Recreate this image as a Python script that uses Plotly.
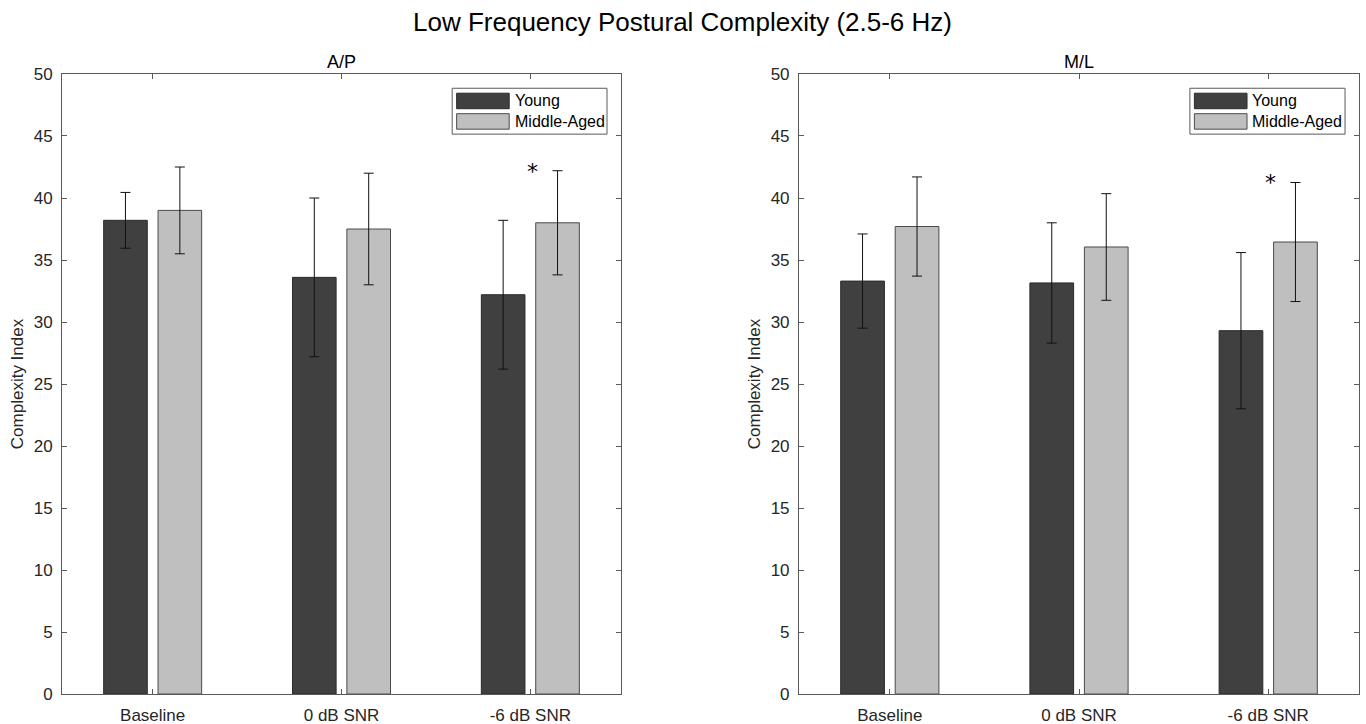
import plotly.graph_objects as go

categories = ["Baseline", "0 dB SNR", "-6 dB SNR"]
cat_pos = [1, 2, 3]
groups = ["Young", "Middle-Aged"]

ap_young = [38.2, 33.6, 32.2]
ap_young_err = [2.25, 6.4, 6.0]
ap_middle = [39.0, 37.5, 38.0]
ap_middle_err = [3.5, 4.5, 4.2]

ml_young = [33.3, 33.15, 29.3]
ml_young_err = [3.8, 4.85, 6.3]
ml_middle = [37.7, 36.05, 36.45]
ml_middle_err = [4.0, 4.3, 4.8]

sig_ap = {"x": 3, "y": 42.6}
sig_ml = {"x": 3, "y": 41.7}

y_ticks = [0, 5, 10, 15, 20, 25, 30, 35, 40, 45, 50]

C_YOUNG = "#404040"
C_MIDDLE = "#bfbfbf"
FONT = "Liberation Sans, Arial, sans-serif"
AXC = "#5a5a5a"
TXT = "#262626"

fig = go.Figure()

def add_pair(xa, ya, young, yerr, middle, merr):
    fig.add_trace(go.Bar(
        x=cat_pos, y=young, name=groups[0], xaxis=xa, yaxis=ya,
        marker=dict(color=C_YOUNG, line=dict(color="#2a2a2a", width=1)),
        error_y=dict(type="data", array=yerr, color="#111111", thickness=1, width=5),
        showlegend=False))
    fig.add_trace(go.Bar(
        x=cat_pos, y=middle, name=groups[1], xaxis=xa, yaxis=ya,
        marker=dict(color=C_MIDDLE, line=dict(color="#4a4a4a", width=1)),
        error_y=dict(type="data", array=merr, color="#111111", thickness=1, width=5),
        showlegend=False))

add_pair("x", "y", ap_young, ap_young_err, ap_middle, ap_middle_err)
add_pair("x2", "y2", ml_young, ml_young_err, ml_middle, ml_middle_err)

xcommon = dict(range=[0.52, 3.48], tickvals=cat_pos, ticktext=categories,
               ticks="inside", ticklen=5, tickcolor=AXC, showline=True, linecolor=AXC,
               linewidth=1, mirror="ticks", showgrid=False, zeroline=False, automargin=False,
               tickfont=dict(family=FONT, size=17, color=TXT), ticklabelstandoff=6)
ycommon = dict(range=[0, 50], tickvals=y_ticks, ticks="inside", ticklen=5, tickcolor=AXC,
               showline=True, linecolor=AXC, linewidth=1, mirror="ticks", showgrid=False,
               zeroline=False, automargin=False, tickfont=dict(family=FONT, size=17, color=TXT),
               ticklabelstandoff=5,
               title=dict(text="Complexity Index", font=dict(family=FONT, size=17, color=TXT), standoff=5))

ydom = [0.0414, 0.8978]
fig.update_layout(
    width=1366, height=724, autosize=False, showlegend=False,
    margin=dict(l=0, r=0, t=0, b=0, pad=0, autoexpand=False),
    paper_bgcolor="white", plot_bgcolor="white",
    barmode="group", bargap=0.424, bargroupgap=0.198,
    xaxis=dict(domain=[0.0454, 0.4546], anchor="y", **xcommon),
    yaxis=dict(domain=ydom, anchor="x", **ycommon),
    xaxis2=dict(domain=[0.5849, 0.9949], anchor="y2", **xcommon),
    yaxis2=dict(domain=ydom, anchor="x2", **ycommon),
    font=dict(family=FONT, color=TXT),
)

annotations = [
    dict(text="Low Frequency Postural Complexity (2.5-6 Hz)", x=0.4995, y=1 - 22 / 724,
         xref="paper", yref="paper", yanchor="middle", showarrow=False,
         font=dict(family=FONT, size=26, color="#000000")),
]

for xd, t in ((("x domain", "y domain"), "A/P"), (("x2 domain", "y2 domain"), "M/L")):
    annotations.append(dict(text=t, x=0.5, y=1.0, xref=xd[0], yref=xd[1], yanchor="bottom",
                            showarrow=False, yshift=0,
                            font=dict(family=FONT, size=18, color="#000000")))

for xa, ya, sig in (("x", "y", sig_ap), ("x2", "y2", sig_ml)):
    annotations.append(dict(text="*", x=sig["x"], y=sig["y"], xref=xa, yref=ya,
                            showarrow=False, yanchor="middle", yshift=-6, xshift=2,
                            font=dict(family="DejaVu Sans, sans-serif", size=22, color="#000000")))

shapes = []
for xd, yd in (("x domain", "y domain"), ("x2 domain", "y2 domain")):
    shapes.append(dict(type="rect", xref=xd, yref=yd, x0=0.698, x1=0.975, y0=0.903, y1=0.977,
                       line=dict(color=AXC, width=1), fillcolor="white", layer="above"))
    shapes.append(dict(type="rect", xref=xd, yref=yd, x0=0.706, x1=0.800, y0=0.944, y1=0.969,
                       line=dict(color="#2a2a2a", width=1), fillcolor=C_YOUNG, layer="above"))
    shapes.append(dict(type="rect", xref=xd, yref=yd, x0=0.706, x1=0.800, y0=0.911, y1=0.936,
                       line=dict(color="#4a4a4a", width=1), fillcolor=C_MIDDLE, layer="above"))
    for lbl, yy in ((groups[0], 0.9565), (groups[1], 0.9235)):
        annotations.append(dict(text=lbl, x=0.806, y=yy, xref=xd, yref=yd, xanchor="left",
                                yanchor="middle", showarrow=False,
                                font=dict(family=FONT, size=16, color="#000000")))

fig.update_layout(annotations=annotations, shapes=shapes)
fig.write_html("out.html", config={"displayModeBar": False},
               post_script="document.body.style.margin='0';document.body.style.overflow='hidden';")
